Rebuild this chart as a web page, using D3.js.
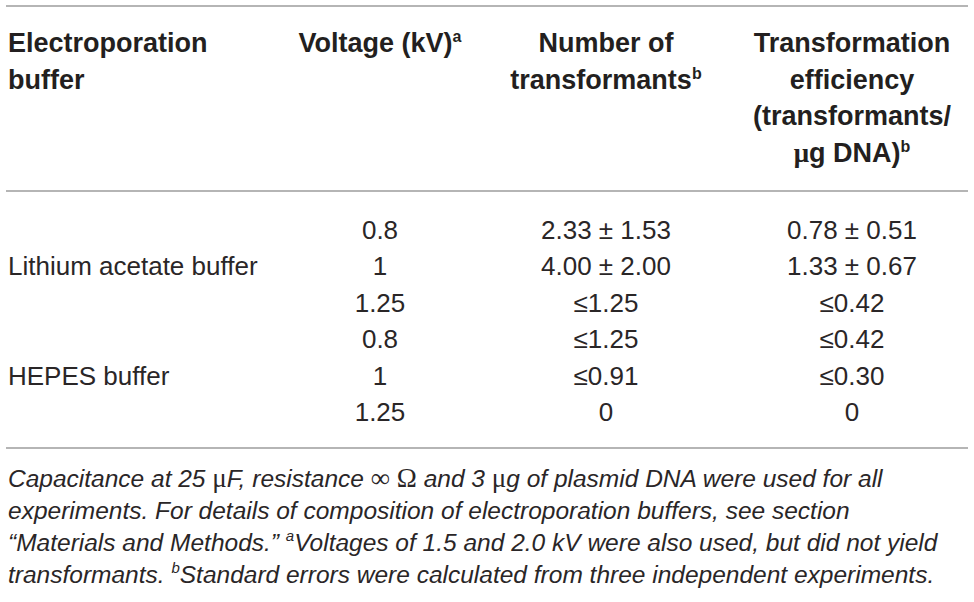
<!DOCTYPE html>
<html>
<head>
<meta charset="utf-8">
<script src="https://cdn.jsdelivr.net/npm/d3@7"></script>
<style>
  body { margin: 0; background: #fff; }
  text { font-family: "Liberation Sans", Arial, sans-serif; fill: #231f20; }
  .head { font-size: 27px; font-weight: bold; }
  .cell { font-size: 26px; fill: #2a2627; }
  .note { font-size: 24.5px; font-style: italic; fill: #2a2627; }
  .sym { font-family: "Liberation Serif", "DejaVu Serif", serif; font-style: normal; }
  .note .sym { font-size: 27px; }
  .rule { stroke: #9d9d9d; stroke-width: 1.6; }
</style>
</head>
<body>
<div id="table"></div>
<script>
// table content
var headers = [
    ["Electroporation", "buffer"],
    ["Voltage (kV)^a"],
    ["Number of", "transformants^b"],
    ["Transformation", "efficiency", "(transformants/", "μg DNA)^b"]
];
var buffers = ["Lithium acetate buffer", "HEPES buffer"];
var bufferRows = [1, 4];
var voltages = ["0.8", "1", "1.25", "0.8", "1", "1.25"];
var transformants = ["2.33 ± 1.53", "4.00 ± 2.00", "≤1.25", "≤1.25", "≤0.91", "0"];
var efficiency = ["0.78 ± 0.51", "1.33 ± 0.67", "≤0.42", "≤0.42", "≤0.30", "0"];
var footnotes = [
    "Capacitance at 25 μF, resistance ∞ Ω and 3 μg of plasmid DNA were used for all",
    "experiments. For details of composition of electroporation buffers, see section",
    "“Materials and Methods.” ^aVoltages of 1.5 and 2.0 kV were also used, but did not yield",
    "transformants. ^bStandard errors were calculated from three independent experiments."
];

var svgWidth = 974;
var svgHeight = 602;

var svg = d3.select("#table")
    .append("svg")
    .attr("width", svgWidth)
    .attr("height", svgHeight);

// column positions and row scales
var colX = d3.scaleOrdinal().domain([0, 1, 2, 3]).range([8, 380, 606, 852]);
var colAnchor = d3.scaleOrdinal().domain([0, 1, 2, 3]).range(["start", "middle", "middle", "middle"]);
var headY = d3.scalePoint().domain(d3.range(4)).range([52, 162]);
var rowY = d3.scalePoint().domain(d3.range(voltages.length)).range([238.5, 421]);
var noteY = d3.scalePoint().domain(d3.range(footnotes.length)).range([487, 583]);

// writes a string into a text node, handling ^x superscripts and symbol glyphs
function rich(textSel, str, supSize) {
    var parts = str.split(/(\^[ab]|[μ∞Ω])/).filter(function(p) { return p.length; });
    var raised = false;
    parts.forEach(function(p) {
        var ts = textSel.append("tspan");
        if (raised) { ts.attr("dy", 10); raised = false; }
        if (p[0] === "^") {
            ts.attr("dy", -10).style("font-size", supSize + "px").text(p.slice(1));
            raised = true;
        } else if (/[μ∞Ω]/.test(p)) {
            ts.attr("class", "sym").text(p);
        } else {
            ts.text(p);
        }
    });
}

// rules
var ruleY = [6, 191, 448];
svg.selectAll("line.rule")
    .data(ruleY)
    .enter()
    .append("line")
    .attr("class", "rule")
    .attr("x1", 6)
    .attr("x2", 968)
    .attr("y1", d => d)
    .attr("y2", d => d);

// header
headers.forEach(function(lines, c) {
    lines.forEach(function(line, i) {
        var t = svg.append("text")
            .attr("class", "head")
            .attr("x", colX(c))
            .attr("y", headY(i))
            .attr("text-anchor", colAnchor(c));
        rich(t, line, 16);
    });
});

// body columns
var columns = [null, voltages, transformants, efficiency];
columns.forEach(function(values, c) {
    if (!values) return;
    svg.append("g")
        .selectAll("text")
        .data(values)
        .enter()
        .append("text")
        .attr("class", "cell")
        .attr("x", colX(c))
        .attr("y", (d, i) => rowY(i))
        .attr("text-anchor", colAnchor(c))
        .text(d => d);
});

svg.append("g")
    .selectAll("text")
    .data(buffers)
    .enter()
    .append("text")
    .attr("class", "cell")
    .attr("x", colX(0))
    .attr("y", (d, i) => rowY(bufferRows[i]))
    .text(d => d);

// footnotes
footnotes.forEach(function(line, i) {
    var t = svg.append("text")
        .attr("class", "note")
        .attr("x", 8)
        .attr("y", noteY(i));
    rich(t, line, 15);
});
</script>
</body>
</html>
